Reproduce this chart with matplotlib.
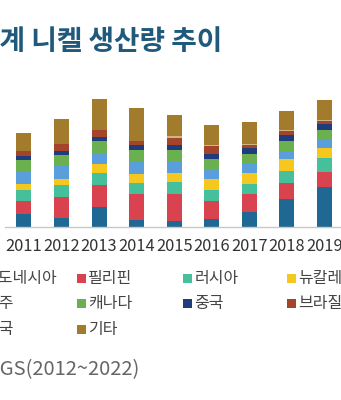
import matplotlib
matplotlib.use('Agg')
import matplotlib.pyplot as plt
from matplotlib.patches import Rectangle
from matplotlib.font_manager import FontProperties
import numpy as np

plt.rcParams['font.family'] = ['Noto Sans CJK KR', 'DejaVu Sans']

# ---- data (thousand tonnes) ----
years = ['2011', '2012', '2013', '2014', '2015', '2016', '2017', '2018', '2019']
indonesia     = [259, 190, 408, 137, 122, 169, 312, 577, 816]
philippines   = [271, 422, 443, 530, 545, 361, 367, 326, 312]
russia        = [224, 239, 259, 239, 251, 218, 204, 239, 286]
new_caledonia = [116, 137, 169, 169, 184, 224, 224, 239, 204]
australia     = [271, 259, 239, 251, 245, 218, 184, 169, 169]
canada        = [224, 218, 239, 239, 231, 204, 204, 204, 184]
china         = [82, 88, 88, 102, 88, 102, 108, 116, 137]
brazil        = [102, 137, 129, 88, 157, 149, 67, 88, 55]
usa           = [0, 0, 0, 4, 27, 24, 22, 18, 14]
others        = [373, 510, 632, 675, 428, 404, 447, 390, 408]

series_names = ['인도네시아', '필리핀', '러시아', '뉴칼레도니아',
                '호주', '캐나다', '중국', '브라질', '미국', '기타']
series_vals = [indonesia, philippines, russia, new_caledonia, australia,
               canada, china, brazil, usa, others]
colors = ['#1f6893', '#d8434f', '#45c09b', '#f6c81f', '#5a9edc',
          '#6bb04e', '#1f3c7d', '#a4452b', '#cdb680', '#a27b2c']

W, H = 341, 400
fig = plt.figure(figsize=(W / 100, H / 100), dpi=100)
fig.patch.set_facecolor('white')

ax = fig.add_axes([5.2 / W, 173 / H, 375.6 / W, 147 / H])
x = np.arange(len(years))
bottom = np.zeros(len(years))
for vals, c in zip(series_vals, colors):
    v = np.array(vals, dtype=float)
    ax.bar(x, v, 0.4, bottom=bottom, color=c, linewidth=0)
    bottom += v

ax.set_xlim(-0.5, 9.5)
ax.set_ylim(0, 3000)
for s in ['top', 'right', 'left']:
    ax.spines[s].set_visible(False)
ax.spines['bottom'].set_color('#c8c8c8')
ax.spines['bottom'].set_linewidth(1.0)
ax.set_yticks([])
ax.set_xticks(x, years)
ax.tick_params(axis='x', length=0, pad=8, labelsize=11.8, labelcolor='#333333')

renderer = fig.canvas.get_renderer()

# title (left part cropped off like the reference)
title_fp = FontProperties(family=['Noto Sans CJK KR', 'DejaVu Sans'], size=20, weight='bold')
w_pre, _, _ = renderer.get_text_width_height_descent('세', title_fp, ismath=False)
fig.text((-w_pre) / W, 1 - 42 / H, '세계 니켈 생산량 추이', fontproperties=title_fp,
         color='#1f5a7c', ha='left', va='center')

# legend grid
col_x = [-27, 77.3, 183.3, 287.3]
row_y = [278, 303.5, 329.5]
for i, (name, c) in enumerate(zip(series_names, colors)):
    col, row = i % 4, i // 4
    px, py = col_x[col], row_y[row]
    fig.patches.append(Rectangle((px / W, 1 - (py + 4.5) / H), 8.5 / W, 9 / H,
                                 transform=fig.transFigure, facecolor=c,
                                 edgecolor='none'))
    fig.text((px + 11) / W, 1 - py / H, name, fontsize=11.5, color='#444444',
             ha='left', va='center')

# source
src_fp = FontProperties(family=['Noto Sans CJK KR', 'DejaVu Sans'], size=14.5)
w_src, _, _ = renderer.get_text_width_height_descent('자료: US', src_fp, ismath=False)
fig.text((-w_src) / W, 1 - 370 / H, '자료: USGS(2012~2022)', fontproperties=src_fp,
         color='#666666', ha='left', va='center')

fig.savefig('out.png', dpi=100, facecolor='white')
